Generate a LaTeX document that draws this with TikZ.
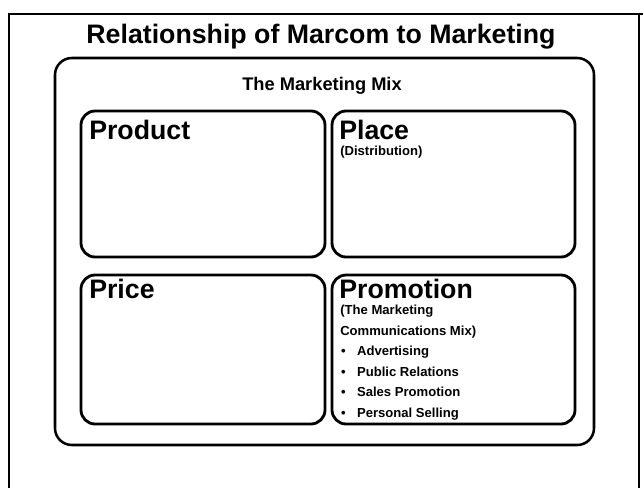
\documentclass[tikz,border=0pt]{standalone}
\usepackage{fontspec}
\setmainfont{Liberation Sans}
\usepackage{tikz}
\tikzset{
outerline/.style={line width=1.8pt},
mixbox/.style={draw, line width=1.8pt, rounded corners=12pt},
cell/.style={draw, line width=2pt, rounded corners=10pt},
cellhead/.style={anchor=base west, inner sep=0pt, font=\bfseries\fontsize{19}{19}\selectfont},
celltext/.style={anchor=north west, inner sep=0pt, align=left, font=\bfseries\fontsize{9.3}{14.6}\selectfont}
}
\newcommand{\mixitem}[1]{\makebox[0.42cm][l]{\hspace{0.02cm}\textbullet}#1}

\begin{document}
\begin{tikzpicture}[x=0.025cm, y=-0.025cm]
\useasboundingbox (0,0) rectangle (643,488);
% open frame, no bottom edge
\draw[outerline] (9,488) -- (9,14) -- (643,14);
\draw[outerline] (639,14) -- (639,488);
\node[anchor=base, inner sep=0pt, font=\bfseries\fontsize{19}{20}\selectfont] (title) at (321,43) {Relationship of Marcom to Marketing};

\draw[mixbox] (55,58) rectangle (594,445);
\node[anchor=base, inner sep=0pt, font=\bfseries\fontsize{13}{14}\selectfont] (mix) at (322,90) {The Marketing Mix};

% the four P's
\draw[cell] (81,111) rectangle (325,257);
\draw[cell] (332,111) rectangle (575,257);
\draw[cell] (81,275) rectangle (325,424);
\draw[cell] (332,275) rectangle (575,424);

\node[cellhead] (product) at (89,139) {Product};
\node[cellhead] (place) at (339,139) {Place};
\node[celltext] (distrib) at (340,146) {(Distribution)};
\node[cellhead] (price) at (89,298) {Price};
\node[cellhead] (promotion) at (339,298) {Promotion};
\node[celltext] (promomix) at (340,305) {(The Marketing\\Communications Mix)\\
  \mixitem{Advertising}\\\mixitem{Public Relations}\\\mixitem{Sales Promotion}\\\mixitem{Personal Selling}};
\end{tikzpicture}
\end{document}
